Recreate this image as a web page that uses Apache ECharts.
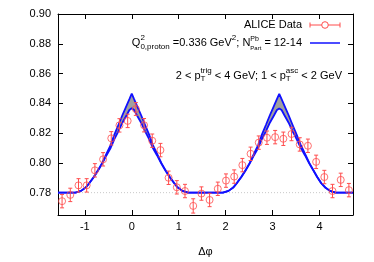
<!DOCTYPE html>
<html>
<head>
<meta charset="utf-8">
<script src="https://cdn.jsdelivr.net/npm/echarts@6/dist/echarts.min.js"></script>
<style>
html,body{margin:0;padding:0;background:#fff;}
#chart{width:374px;height:262px;}
</style>
</head>
<body>
<div id="chart"></div>
<script>
// ---- data ----
const dphi = [-1.484,-1.309,-1.134,-0.960,-0.785,-0.611,-0.436,-0.262,-0.087,0.087,0.262,0.436,0.611,0.785,0.960,1.134,1.309,1.484,1.658,1.833,2.007,2.182,2.356,2.531,2.705,2.880,3.054,3.229,3.403,3.578,3.752,3.927,4.102,4.276,4.451,4.625];
const corr = [0.7743,0.7785,0.7849,0.7849,0.7950,0.8024,0.8165,0.8252,0.8282,0.8362,0.8253,0.8149,0.8086,0.7900,0.7836,0.7811,0.7711,0.7794,0.7751,0.7826,0.7881,0.7908,0.7985,0.8061,0.8136,0.8169,0.8173,0.8162,0.8194,0.8124,0.8115,0.8007,0.7905,0.7811,0.7886,0.7817];
const corrErr = [0.0045,0.0045,0.0045,0.0045,0.0045,0.0045,0.0045,0.0045,0.0045,0.0043,0.0045,0.0045,0.0045,0.0045,0.0045,0.0045,0.0048,0.0045,0.0045,0.0045,0.0045,0.0045,0.0045,0.0045,0.0045,0.0045,0.0045,0.0045,0.0045,0.0045,0.0045,0.0045,0.0045,0.0045,0.0045,0.0045];

const curveX = [-1.5708,-1.2,-1.08,-0.98,-0.9,-0.81,-0.72,-0.63,-0.54,-0.45,-0.37,-0.28,-0.2,-0.11,-0.05,0,0.05,0.11,0.2,0.28,0.37,0.45,0.54,0.63,0.72,0.81,0.9,0.98,1.08,1.2,
  1.9416,2.0616,2.1616,2.2416,2.3316,2.4216,2.5116,2.6016,2.6916,2.7716,2.8616,2.9416,3.0316,3.0916,3.1416,3.1916,3.2516,3.3416,3.4216,3.5116,3.6016,3.6916,3.7816,3.8716,3.9516,4.0316,4.1216,4.2216,4.3416,4.7124];
const curveUpper = [0.78,0.78,0.7812,0.7835,0.7866,0.7905,0.795,0.800,0.806,0.812,0.819,0.8258,0.832,0.8385,0.8428,0.8465,0.8428,0.8385,0.832,0.8258,0.819,0.812,0.806,0.800,0.795,0.7905,0.7866,0.7835,0.7812,0.78,
  0.78,0.7812,0.7835,0.7866,0.7905,0.795,0.800,0.806,0.812,0.819,0.8258,0.832,0.8385,0.8428,0.8463,0.8428,0.8385,0.832,0.8258,0.819,0.812,0.806,0.800,0.795,0.7905,0.7866,0.7835,0.7812,0.78,0.78];
const curveLower = [0.78,0.78,0.7812,0.7834,0.7865,0.7903,0.7947,0.7995,0.805,0.810,0.816,0.8215,0.827,0.832,0.8355,0.8367,0.8355,0.832,0.827,0.8215,0.816,0.810,0.805,0.7995,0.7947,0.7903,0.7865,0.7834,0.7812,0.78,
  0.78,0.7812,0.7834,0.7865,0.7903,0.7947,0.7995,0.805,0.810,0.816,0.8215,0.827,0.832,0.8355,0.8366,0.8355,0.832,0.827,0.8215,0.816,0.810,0.805,0.7995,0.7947,0.7903,0.7865,0.7834,0.7812,0.78,0.78];

const baselineY = 0.78;
const xMin = -Math.PI/2, xMax = 3*Math.PI/2;
const yMin = 0.765, yMax = 0.90;
const xTicks = [-1,0,1,2,3,4];
const yTicks = [0.78,0.80,0.82,0.84,0.86,0.88,0.90];

const RED = '#ff4d4d';
const BLUE = '#1010ff';
const FONT = '"Liberation Sans", Arial, sans-serif';

// ---- text layout helper (super/subscripts as separate text pieces) ----
const mctx = document.createElement('canvas').getContext('2d');
function measure(t, size){ mctx.font = size + 'px ' + FONT; return mctx.measureText(t).width; }
function richLine(parts, rightX, baseline){
  const items = []; let x = 0;
  parts.forEach(p => {
    if (p.stack){
      let w = 0;
      p.stack.forEach(s => { items.push({t:s.t, size:s.size, dy:s.dy, x:x}); w = Math.max(w, measure(s.t, s.size)); });
      x += w;
    } else {
      items.push({t:p.t, size:p.size, dy:p.dy||0, x:x});
      x += measure(p.t, p.size);
    }
  });
  const start = rightX - x;
  return items.map(it => ({
    type:'text', x: start + it.x, y: baseline + it.dy - 0.34*it.size, z: 100,
    style:{text: it.t, font: it.size + 'px ' + FONT, fill:'#000', align:'left', verticalAlign:'middle'}
  }));
}

const M = 11, S = 8;
const line1 = richLine([{t:'ALICE Data', size:M}], 302, 29);
const line2 = richLine([
  {t:'Q', size:M},
  {stack:[{t:'2', size:S, dy:-6},{t:'0,proton', size:S, dy:3}]},
  {t:' =0.336 GeV', size:M},
  {t:'2', size:S, dy:-6},
  {t:'; N', size:M},
  {stack:[{t:'Pb', size:7, dy:-6},{t:'Part', size:6, dy:3}]},
  {t:' = 12-14', size:M}
], 302, 47);
const line3 = richLine([
  {t:'2 < p', size:M},
  {stack:[{t:'trig', size:S, dy:-6},{t:'T', size:S, dy:2}]},
  {t:' < 4 GeV; 1 < p', size:M},
  {stack:[{t:'asc', size:S, dy:-6},{t:'T', size:S, dy:2}]},
  {t:' < 2 GeV', size:M}
], 342, 79.5);

const legendIcons = [
  {type:'line', shape:{x1:310,y1:25,x2:340,y2:25}, style:{stroke:RED, lineWidth:1}, z:100},
  {type:'line', shape:{x1:310,y1:22.5,x2:310,y2:27.5}, style:{stroke:RED, lineWidth:1}, z:100},
  {type:'line', shape:{x1:340,y1:22.5,x2:340,y2:27.5}, style:{stroke:RED, lineWidth:1}, z:100},
  {type:'circle', shape:{cx:325,cy:25,r:3.3}, style:{stroke:RED, fill:'#fff', lineWidth:1}, z:101},
  {type:'line', shape:{x1:310,y1:43,x2:340,y2:43}, style:{stroke:BLUE, lineWidth:1.5}, z:100}
];

const chart = echarts.init(document.getElementById('chart'), null, {renderer:'canvas'});
const axisCommon = {
  type:'value',
  axisLine:{show:true, onZero:false, lineStyle:{color:'#000', width:1}},
  splitLine:{show:false}
};
chart.setOption({
  animation:false,
  backgroundColor:'#fff',
  textStyle:{fontFamily:FONT},
  grid:{left:58, right:21, top:14, bottom:37, containLabel:false},
  xAxis:[
    Object.assign({}, axisCommon, {min:xMin, max:xMax, position:'bottom',
      name:'\u0394\u03c6', nameLocation:'middle', nameGap:31,
      nameTextStyle:{fontSize:11, color:'#000', fontFamily:FONT},
      axisTick:{show:true, inside:true, length:5, customValues:xTicks, lineStyle:{color:'#000'}},
      axisLabel:{show:true, margin:6, fontSize:11, color:'#000', fontFamily:FONT, customValues:xTicks}
    }),
    Object.assign({}, axisCommon, {min:xMin, max:xMax, position:'top',
      axisTick:{show:true, inside:true, length:5, customValues:xTicks, lineStyle:{color:'#000'}},
      axisLabel:{show:false}
    })
  ],
  yAxis:[
    Object.assign({}, axisCommon, {min:yMin, max:yMax, position:'left',
      axisTick:{show:true, inside:true, length:5, customValues:yTicks, lineStyle:{color:'#000'}},
      axisLabel:{show:true, margin:7, fontSize:11, color:'#000', fontFamily:FONT, customValues:yTicks,
        formatter: v => v.toFixed(2)}
    }),
    Object.assign({}, axisCommon, {min:yMin, max:yMax, position:'right',
      axisTick:{show:true, inside:true, length:5, customValues:yTicks, lineStyle:{color:'#000'}},
      axisLabel:{show:false}
    })
  ],
  graphic: line1.concat(line2, line3, legendIcons),
  series:[
    {type:'line', name:'baseline', data:[[xMin, baselineY],[xMax, baselineY]], symbol:'none', silent:true, z:1,
      lineStyle:{color:'#c8c8c8', width:1, type:[1,2]}},
    {type:'custom', name:'band', z:2, silent:true,
      data:[[curveX[0], curveLower[0]]],
      renderItem: function(params, api){
        const pts = [];
        for (let i = 0; i < curveX.length; i++) pts.push(api.coord([curveX[i], curveUpper[i]]));
        for (let i = curveX.length - 1; i >= 0; i--) pts.push(api.coord([curveX[i], curveLower[i]]));
        return {type:'polygon', shape:{points:pts}, style:{fill:'#a0a0a0', stroke:null}};
      }
    },
    {type:'line', name:'upper', data:curveX.map((x,i)=>[x, curveUpper[i]]), symbol:'none', silent:true, z:3,
      lineStyle:{color:BLUE, width:1.8}},
    {type:'line', name:'lower', data:curveX.map((x,i)=>[x, curveLower[i]]), symbol:'none', silent:true, z:3,
      lineStyle:{color:BLUE, width:1.8}},
    {type:'custom', name:'errors', z:4,
      data: dphi.map((x,i)=>[x, corr[i]-corrErr[i], corr[i]+corrErr[i]]),
      renderItem: function(params, api){
        const lo = api.coord([api.value(0), api.value(1)]);
        const hi = api.coord([api.value(0), api.value(2)]);
        const hw = 2;
        const st = {stroke:RED, lineWidth:1};
        return {type:'group', children:[
          {type:'line', shape:{x1:lo[0], y1:lo[1], x2:hi[0], y2:hi[1]}, style:st},
          {type:'line', shape:{x1:lo[0]-hw, y1:lo[1], x2:lo[0]+hw, y2:lo[1]}, style:st},
          {type:'line', shape:{x1:hi[0]-hw, y1:hi[1], x2:hi[0]+hw, y2:hi[1]}, style:st}
        ]};
      }
    },
    {type:'scatter', name:'ALICE Data', z:5, symbol:'circle', symbolSize:7,
      data: dphi.map((x,i)=>[x, corr[i]]),
      itemStyle:{color:'rgba(255,255,255,0)', borderColor:RED, borderWidth:1}}
  ]
});
</script>
</body>
</html>
